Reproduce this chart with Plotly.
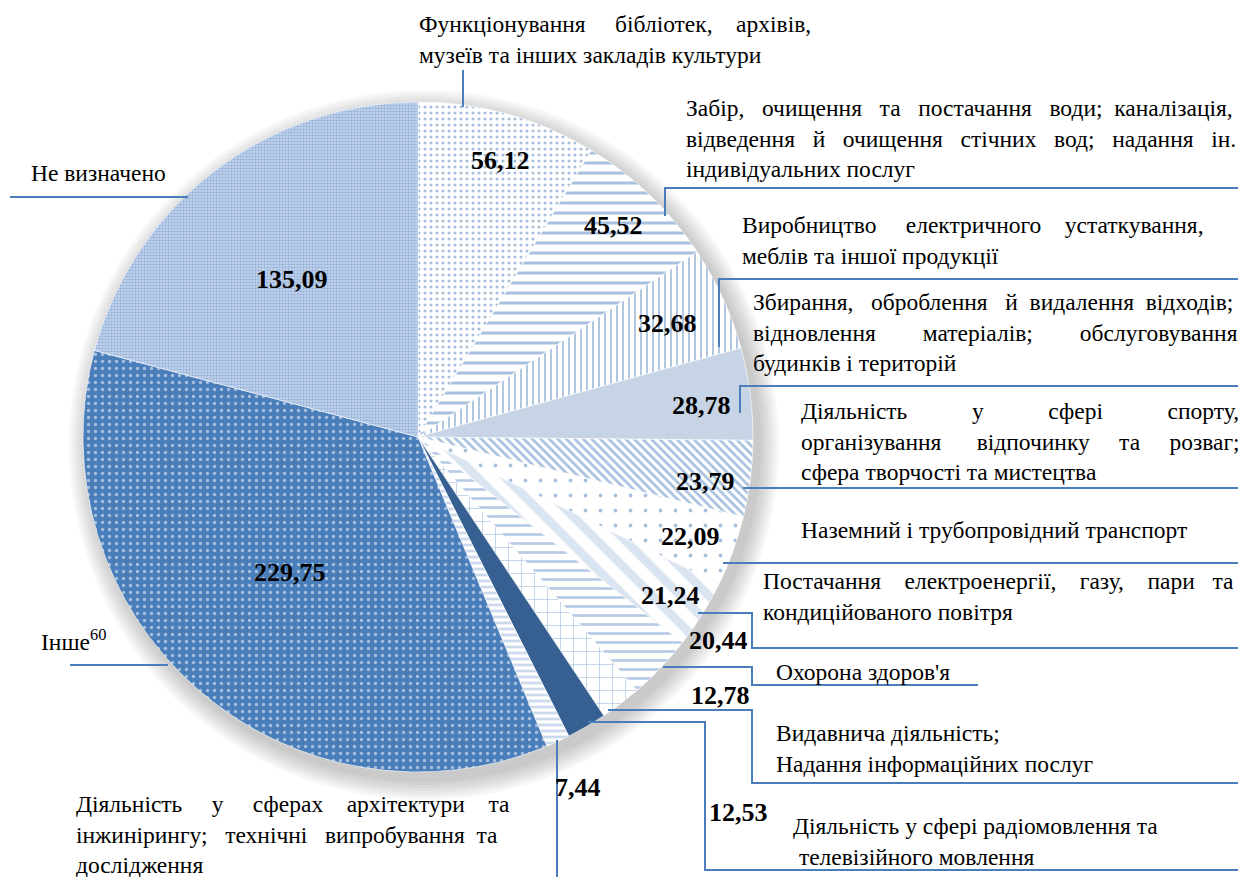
import plotly.graph_objects as go

# дані діаграми (за годинниковою стрілкою від 12 години)
labels = [
    "Функціонування бібліотек, архівів, музеїв та інших закладів культури",
    "Забір, очищення та постачання води; каналізація, відведення й очищення стічних вод; надання ін. індивідуальних послуг",
    "Виробництво електричного устаткування, меблів та іншої продукції",
    "Збирання, оброблення й видалення відходів; відновлення матеріалів; обслуговування будинків і територій",
    "Діяльність у сфері спорту, організування відпочинку та розваг; сфера творчості та мистецтва",
    "Наземний і трубопровідний транспорт",
    "Постачання електроенергії, газу, пари та кондиційованого повітря",
    "Охорона здоров'я",
    "Видавнича діяльність; Надання інформаційних послуг",
    "Діяльність у сфері радіомовлення та телевізійного мовлення",
    "Діяльність у сферах архітектури та інжинірингу; технічні випробування та дослідження",
    "Інше",
    "Не визначено",
]
values = [56.12, 45.52, 32.68, 28.78, 23.79, 22.09, 21.24, 20.44, 12.78, 12.53, 7.44, 229.75, 135.09]
value_text = [f"{v:.2f}".replace(".", ",") for v in values]

NB = "\u00a0"


def jl(words, gaps):
    # рядок "за шириною": між словами стільки нерозривних пробілів, скільки задано
    out = words[0]
    for w, g in zip(words[1:], gaps):
        out += NB * g + w
    return out


# підписи категорій так, як вони розбиті на рядки у вихідному малюнку
label_text = [
    jl(["Функціонування", "бібліотек,", "архівів,"], [5, 4]) + "<br>музеїв та інших закладів культури",
    jl("Забір, очищення та постачання води; каналізація,".split(), [3, 3, 3, 3, 2, 2]) + "<br>"
    + jl("відведення й очищення стічних вод; надання ін.".split(), [3, 3, 3, 3, 3, 3])
    + "<br>індивідуальних послуг",
    jl(["Виробництво", "електричного", "устаткування,"], [5, 4]) + "<br>меблів та іншої продукції",
    jl("Збирання, оброблення й видалення відходів;".split(), [3, 3, 2, 2]) + "<br>"
    + jl(["відновлення", "матеріалів;", "обслуговування"], [8, 8]) + "<br>будинків і територій",
    jl(["Діяльність", "у", "сфері", "спорту,"], [11, 11, 11]) + "<br>"
    + jl(["організування", "відпочинку", "та", "розваг;"], [6, 5, 5])
    + "<br>сфера творчості та мистецтва",
    "Наземний і трубопровідний транспорт",
    jl("Постачання електроенергії, газу, пари та".split(), [4, 4, 4, 3]) + "<br>кондиційованого повітря",
    "Охорона здоров'я",
    "Видавнича діяльність;<br>Надання інформаційних послуг",
    f"Діяльність у сфері радіомовлення та<br>{NB}телевізійного мовлення",
    jl(["Діяльність", "у", "сферах", "архітектури", "та"], [5, 5, 4, 4]) + "<br>"
    + jl(["інжинірингу;", "технічні", "випробування", "та"], [3, 3, 2]) + "<br>дослідження",
    "Інше<sup>60</sup>",
    "Не визначено",
]

W, H = 1246, 877
OFF = 8  # відступ сторінки браузера
CX, CY, R = 418, 437, 335


def px(x):
    return (x - OFF) / W


def py(y):
    return 1 - (y - OFF) / H


BLUE = "#4f81bd"
shapes_pat = [".", "-", "|", "", "\\", ".", "\\", "-", "+", "", "-", ".", "."]
bg = ["white", "white", "white", "#c6d4e5", "white", "white", "white", "white",
      "white", "#376092", "white", "#4a7ebb", "#c2d3ea"]
fg = [BLUE, BLUE, BLUE, BLUE, BLUE, BLUE, "#b8cce4", "#6f96cc", "#6f96cc",
      BLUE, "#95b3d7", "white", "#5b8ac6"]
psize = [6, 10, 6, 8, 6, 15, 20, 9, 13, 8, 6, 7, 3]
psolid = [0.22, 0.3, 0.3, 0.3, 0.45, 0.05, 0.45, 0.3, 0.12, 0.3, 0.45, 0.18, 0.4]

fig = go.Figure()

fig.add_trace(go.Pie(
    labels=labels,
    values=values,
    sort=False,
    direction="clockwise",
    rotation=0,
    textinfo="none",
    hoverinfo="label+value",
    showlegend=False,
    marker=dict(
        colors=bg,
        line=dict(color="white", width=0.6),
        pattern=dict(shape=shapes_pat, fgcolor=fg, size=psize,
                     solidity=psolid, fillmode="overlay"),
    ),
    domain=dict(x=[px(CX - R), px(CX + R)], y=[py(CY + R), py(CY - R)]),
))

# м'яка тінь під кругом
shapes = []
for k in range(7):
    r = R + 2 + 3 * k
    shapes.append(dict(
        type="circle", xref="paper", yref="paper", layer="below",
        x0=px(CX + 6 - r), x1=px(CX + 6 + r), y0=py(CY + 8 + r), y1=py(CY + 8 - r),
        fillcolor="rgba(0,0,0,0.03)", line=dict(width=0),
    ))

# виносні лінії (піксельні координати)
leaders = [
    [(463, 70), (463, 107)],
    [(665, 216), (665, 188), (1250, 188)],
    [(719, 347), (719, 279), (1250, 279)],
    [(740, 413), (740, 386), (1250, 386)],
    [(743, 488), (1250, 488)],
    [(723, 563), (1250, 563)],
    [(698, 613), (752, 613), (752, 648), (1250, 648)],
    [(663, 667), (752, 667), (752, 685), (978, 685)],
    [(608, 710), (752, 710), (752, 783), (1250, 783)],
    [(588, 722), (705, 722), (705, 870), (1250, 870)],
    [(557, 740), (557, 880)],
    [(70, 665), (168, 665)],
    [(10, 197), (188, 197)],
]
for pts in leaders:
    path = "M " + " L ".join(f"{px(x)} {py(y)}" for x, y in pts)
    shapes.append(dict(type="path", xref="paper", yref="paper", path=path,
                       line=dict(color="#4a7ebb", width=2)))

# положення підписів категорій (лівий край, центр блоку)
label_pos = [(418, 39), (685, 138), (741, 241), (752, 332), (800, 441), (800, 530),
             (762, 596), (775, 672), (775, 748), (792, 841), (75, 834), (40, 640), (30, 173)]
# положення числових підписів (центр)
value_pos = [(500, 160), (613, 226), (668, 323), (701, 405), (705, 482), (690, 536),
             (670, 595), (718, 640), (720, 695), (738, 812), (578, 787), (290, 572), (292, 280)]

ann = []
for t, (x, y) in zip(label_text, label_pos):
    ann.append(dict(text=t, x=px(x), y=py(y), xref="paper", yref="paper",
                    xanchor="left", yanchor="middle", align="left", showarrow=False,
                    borderpad=0,
                    font=dict(family="Liberation Serif", size=23.5, color="black")))
for t, (x, y) in zip(value_text, value_pos):
    ann.append(dict(text=f"<b>{t}</b>", x=px(x), y=py(y), xref="paper", yref="paper",
                    xanchor="center", yanchor="middle", showarrow=False,
                    font=dict(family="Liberation Serif", size=26, color="black")))

fig.update_layout(
    width=W, height=H,
    margin=dict(l=0, r=0, t=0, b=0),
    paper_bgcolor="white",
    plot_bgcolor="white",
    shapes=shapes,
    annotations=ann,
)

fig.write_html("out.html")
